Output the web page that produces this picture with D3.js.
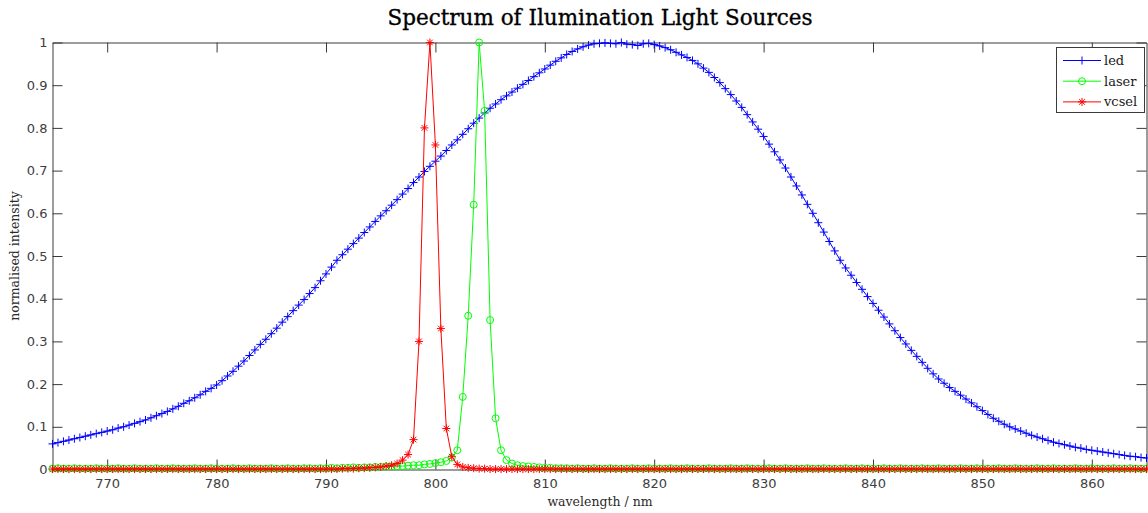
<!DOCTYPE html>
<html><head><meta charset="utf-8">
<script src="https://cdn.jsdelivr.net/npm/d3@7"></script>
<style>html,body{margin:0;padding:0;background:#fff;} svg{display:block;}</style>
</head><body><svg id="chart" width="1148" height="513"></svg>
<script>
const wavelength = [
765,765.5,766,766.5,767,767.5,768,768.5,769,769.5,770,770.5,771,771.5,772,772.5,773,773.5,774,774.5,
775,775.5,776,776.5,777,777.5,778,778.5,779,779.5,780,780.5,781,781.5,782,782.5,783,783.5,784,784.5,
785,785.5,786,786.5,787,787.5,788,788.5,789,789.5,790,790.5,791,791.5,792,792.5,793,793.5,794,794.5,
795,795.5,796,796.5,797,797.5,798,798.5,799,799.5,800,800.5,801,801.5,802,802.5,803,803.5,804,804.5,
805,805.5,806,806.5,807,807.5,808,808.5,809,809.5,810,810.5,811,811.5,812,812.5,813,813.5,814,814.5,
815,815.5,816,816.5,817,817.5,818,818.5,819,819.5,820,820.5,821,821.5,822,822.5,823,823.5,824,824.5,
825,825.5,826,826.5,827,827.5,828,828.5,829,829.5,830,830.5,831,831.5,832,832.5,833,833.5,834,834.5,
835,835.5,836,836.5,837,837.5,838,838.5,839,839.5,840,840.5,841,841.5,842,842.5,843,843.5,844,844.5,
845,845.5,846,846.5,847,847.5,848,848.5,849,849.5,850,850.5,851,851.5,852,852.5,853,853.5,854,854.5,
855,855.5,856,856.5,857,857.5,858,858.5,859,859.5,860,860.5,861,861.5,862,862.5,863,863.5,864,864.5,
865];

const led = [
.060,.063,.066,.069,.072,.075,.078,.081,.084,.087,.090,.093,.097,.100,.104,.108,.112,.116,.121,.126,
.131,.136,.142,.148,.155,.161,.168,.175,.183,.190,.198,.208,.219,.230,.242,.254,.267,.280,.293,.305,
.318,.331,.345,.358,.372,.385,.398,.412,.426,.442,.458,.474,.490,.503,.516,.529,.542,.555,.568,.581,
.594,.606,.619,.632,.645,.658,.672,.685,.698,.710,.722,.734,.747,.760,.772,.785,.798,.811,.823,.835,
.846,.856,.866,.875,.884,.893,.902,.911,.920,.929,.938,.947,.956,.964,.972,.979,.985,.990,.994,.997,
.998,.999,.998,.997,1.000,.996,.995,.993,.997,.998,.995,.992,.988,.983,.977,.971,.965,.958,.950,.940,
.930,.918,.906,.892,.878,.863,.848,.831,.814,.797,.780,.762,.744,.725,.706,.685,.664,.643,.621,.600,
.578,.556,.534,.512,.490,.472,.455,.438,.422,.405,.389,.373,.357,.341,.325,.309,.294,.279,.265,.251,
.237,.224,.212,.202,.192,.183,.174,.165,.156,.147,.138,.129,.120,.113,.106,.100,.095,.090,.085,.080,
.076,.072,.068,.064,.061,.058,.055,.052,.050,.047,.045,.043,.041,.039,.037,.035,.033,.031,.030,.028,
.027];

const laser = [
.002,.003,.002,.002,.003,.002,.002,.002,.003,.002,.002,.002,.003,.002,.002,.003,.002,.002,.002,.003,
.002,.002,.003,.002,.002,.002,.003,.002,.002,.003,.002,.002,.002,.003,.002,.002,.003,.002,.002,.002,
.003,.002,.002,.003,.002,.002,.003,.003,.002,.003,.003,.004,.003,.004,.004,.005,.004,.005,.005,.006,
.006,.007,.007,.008,.008,.009,.010,.010,.012,.013,.015,.017,.020,.028,.045,.170,.360,.620,1.000,.840,
.350,.120,.045,.022,.014,.010,.008,.007,.006,.005,.004,.004,.003,.003,.003,.002,.003,.002,.002,.003,
.002,.002,.003,.002,.002,.002,.003,.002,.002,.003,.002,.002,.002,.003,.002,.002,.003,.002,.002,.002,
.003,.002,.002,.002,.003,.002,.002,.003,.002,.002,.002,.003,.002,.002,.003,.002,.002,.002,.003,.002,
.002,.003,.002,.002,.002,.003,.002,.002,.003,.002,.002,.002,.003,.002,.002,.003,.002,.002,.002,.003,
.002,.002,.003,.002,.002,.002,.003,.002,.002,.003,.002,.002,.002,.003,.002,.002,.003,.002,.002,.002,
.003,.002,.002,.003,.002,.002,.002,.003,.002,.002,.003,.002,.002,.002,.003,.002,.002,.003,.002,.002,
.002];

const vcsel = [
.001,.001,.001,.001,.001,.001,.001,.001,.001,.001,.001,.001,.001,.001,.001,.001,.001,.001,.001,.001,
.001,.001,.001,.001,.001,.001,.001,.001,.001,.001,.001,.001,.001,.001,.001,.001,.001,.001,.001,.001,
.001,.001,.001,.001,.001,.001,.001,.001,.001,.001,.001,.001,.001,.002,.002,.002,.003,.003,.004,.005,
.006,.008,.010,.014,.022,.035,.070,.300,.800,1.000,.760,.330,.096,.030,.012,.006,.004,.003,.002,.002,
.001,.001,.001,.001,.001,.001,.001,.001,.001,.001,.001,.001,.001,.001,.001,.001,.001,.001,.001,.001,
.001,.001,.001,.001,.001,.001,.001,.001,.001,.001,.001,.001,.001,.001,.001,.001,.001,.001,.001,.001,
.001,.001,.001,.001,.001,.001,.001,.001,.001,.001,.001,.001,.001,.001,.001,.001,.001,.001,.001,.001,
.001,.001,.001,.001,.001,.001,.001,.001,.001,.001,.001,.001,.001,.001,.001,.001,.001,.001,.001,.001,
.001,.001,.001,.001,.001,.001,.001,.001,.001,.001,.001,.001,.001,.001,.001,.001,.001,.001,.001,.001,
.001,.001,.001,.001,.001,.001,.001,.001,.001,.001,.001,.001,.001,.001,.001,.001,.001,.001,.001,.001,
.001];

const seriesNames = ["led", "laser", "vcsel"];
const xTicks = [770, 780, 790, 800, 810, 820, 830, 840, 850, 860];
const yTicks = [0, 0.1, 0.2, 0.3, 0.4, 0.5, 0.6, 0.7, 0.8, 0.9, 1];
const yTickLabels = ["0", "0.1", "0.2", "0.3", "0.4", "0.5", "0.6", "0.7", "0.8", "0.9", "1"];
const titleText = "Spectrum of Ilumination Light Sources";
const xLabel = "wavelength / nm";
const yLabel = "normalised intensity";

const svg = d3.select("#chart");
const L = 52.5, R = 1146.5, T = 42.5, B = 469.5;
const x = d3.scaleLinear().domain([765, 865]).range([L, R]);
const y = d3.scaleLinear().domain([0, 1]).range([B, T]);
const axisColor = "#3a3a3a";

function styleAxis(g) {
  g.selectAll("path.domain").attr("stroke", axisColor).attr("stroke-width", 1);
  g.selectAll(".tick line").attr("stroke", axisColor).attr("stroke-width", 1);
  g.selectAll(".tick text").attr("fill", "#404040")
    .style("font-family", "'DejaVu Sans', sans-serif").style("font-size", "13px");
}

// axes
svg.append("g").attr("transform", `translate(0,${B})`)
  .call(d3.axisBottom(x).tickValues(xTicks).tickSize(-10).tickSizeOuter(0).tickPadding(9).tickFormat(d3.format("d")))
  .call(styleAxis);
svg.append("g").attr("transform", `translate(0,${T})`)
  .call(d3.axisTop(x).tickValues(xTicks).tickSize(-10).tickSizeOuter(0).tickFormat(""))
  .call(styleAxis);
svg.append("g").attr("transform", `translate(${L},0)`)
  .call(d3.axisLeft(y).tickValues(yTicks).tickSize(-10).tickSizeOuter(0).tickPadding(5)
    .tickFormat((d, i) => yTickLabels[i]))
  .call(styleAxis);
svg.append("g").attr("transform", `translate(${R},0)`)
  .call(d3.axisRight(y).tickValues(yTicks).tickSize(-10).tickSizeOuter(0).tickFormat(""))
  .call(styleAxis);

// series
const colors = { led: "#0000ff", laser: "#00ff00", vcsel: "#ff0000" };
const dataBy = { led: led, laser: laser, vcsel: vcsel };
const markerPath = {
  led: "M-4,0H4M0,-4V4",
  vcsel: "M-4,0H4M0,-4V4M-2.8,-2.8L2.8,2.8M-2.8,2.8L2.8,-2.8"
};
const line = d3.line().x(d => x(d[0])).y(d => y(d[1]));

function drawMarker(g, name) {
  if (name === "laser") {
    g.append("circle").attr("r", 3.5).attr("fill", "none")
      .attr("stroke", colors[name]).attr("stroke-width", 1);
  } else {
    g.append("path").attr("d", markerPath[name]).attr("fill", "none")
      .attr("stroke", colors[name]).attr("stroke-width", 1);
  }
}

seriesNames.forEach(name => {
  const pts = wavelength.map((w, i) => [w, dataBy[name][i]]);
  const g = svg.append("g").attr("class", "series-" + name);
  g.append("path").datum(pts).attr("d", line).attr("fill", "none")
    .attr("stroke", colors[name]).attr("stroke-width", 1);
  const m = g.selectAll("g.m").data(pts).join("g").attr("class", "m")
    .attr("transform", d => `translate(${x(d[0])},${y(d[1])})`);
  m.each(function () { drawMarker(d3.select(this), name); });
});

// legend
const lg = svg.append("g");
lg.append("rect").attr("x", 1056.5).attr("y", 47.5).attr("width", 88).attr("height", 65)
  .attr("fill", "#fff").attr("stroke", axisColor).attr("stroke-width", 1);
seriesNames.forEach((name, i) => {
  const yy = 60.5 + i * 20.7;
  lg.append("line").attr("x1", 1063).attr("x2", 1101).attr("y1", yy).attr("y2", yy)
    .attr("stroke", colors[name]).attr("stroke-width", 1);
  const mg = lg.append("g").attr("transform", `translate(1082,${yy})`);
  drawMarker(mg, name);
  lg.append("text").attr("x", 1104).attr("y", yy + 4.5).text(name)
    .attr("fill", "#1a1a1a").style("font-family", "'DejaVu Serif', serif").style("font-size", "13px");
});

// title and labels
svg.append("text").attr("x", 600).attr("y", 25).attr("text-anchor", "middle")
  .text(titleText).attr("fill", "#000").attr("stroke", "#000").attr("stroke-width", 0.35)
  .style("font-family", "'DejaVu Serif', serif").style("font-size", "21.5px");
svg.append("text").attr("x", 600).attr("y", 506).attr("text-anchor", "middle")
  .text(xLabel).attr("fill", "#2a2a2a")
  .style("font-family", "'DejaVu Serif', serif").style("font-size", "12.5px");
svg.append("text").attr("transform", "translate(19,256) rotate(-90)").attr("text-anchor", "middle")
  .text(yLabel).attr("fill", "#2a2a2a")
  .style("font-family", "'DejaVu Serif', serif").style("font-size", "12.5px");
</script>
</body></html>
